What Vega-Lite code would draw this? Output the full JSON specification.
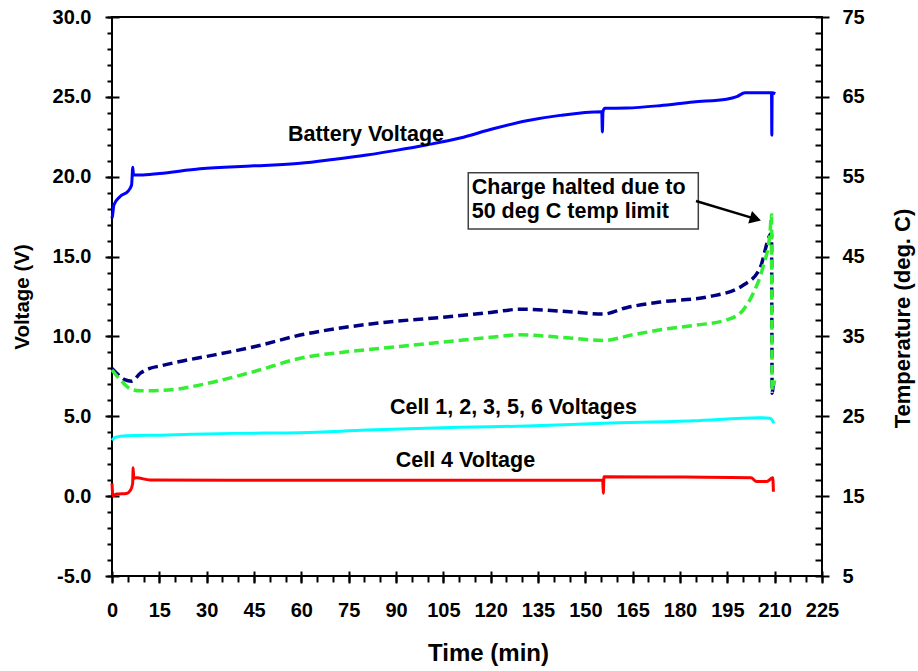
{
  "$schema": "https://vega.github.io/schema/vega-lite/v6.json",
  "width": 710,
  "height": 559,
  "autosize": {"type": "none"},
  "padding": {"left": 112, "top": 17, "right": 96, "bottom": 95},
  "background": "white",
  "config": {
    "view": {"stroke": "black", "strokeWidth": 2},
    "font": "Liberation Sans",
    "axis": {
      "domain": false,
      "grid": false,
      "tickColor": "black",
      "tickWidth": 2,
      "labelFont": "Liberation Sans",
      "labelFontWeight": "bold",
      "labelFontSize": 20,
      "labelColor": "black",
      "titleFont": "Liberation Sans",
      "titleFontWeight": "bold",
      "titleColor": "black",
      "labelOverlap": false,
      "labelFlush": false,
      "labelBound": false
    }
  },
  "datasets": {
    "volt": [
      {"s": "Battery", "t": 0, "v": 17.4},
      {"s": "Battery", "t": 0.2, "v": 17.6},
      {"s": "Battery", "t": 0.6, "v": 18.23},
      {"s": "Battery", "t": 2.5, "v": 18.75},
      {"s": "Battery", "t": 5.2, "v": 19.12},
      {"s": "Battery", "t": 6.2, "v": 19.48},
      {"s": "Battery", "t": 6.6, "v": 20.6},
      {"s": "Battery", "t": 6.8, "v": 20.1},
      {"s": "Battery", "t": 8.9, "v": 20.1},
      {"s": "Battery", "t": 15, "v": 20.2},
      {"s": "Battery", "t": 27.9, "v": 20.5},
      {"s": "Battery", "t": 45, "v": 20.68},
      {"s": "Battery", "t": 59.6, "v": 20.84},
      {"s": "Battery", "t": 70, "v": 21.08},
      {"s": "Battery", "t": 80.7, "v": 21.36},
      {"s": "Battery", "t": 90, "v": 21.65},
      {"s": "Battery", "t": 100, "v": 22.0},
      {"s": "Battery", "t": 110.3, "v": 22.42},
      {"s": "Battery", "t": 120.8, "v": 23.0},
      {"s": "Battery", "t": 131.4, "v": 23.5},
      {"s": "Battery", "t": 142, "v": 23.84},
      {"s": "Battery", "t": 155.2, "v": 24.07},
      {"s": "Battery", "t": 155.4, "v": 22.8},
      {"s": "Battery", "t": 155.6, "v": 24.1},
      {"s": "Battery", "t": 156.2, "v": 24.28},
      {"s": "Battery", "t": 163.1, "v": 24.3},
      {"s": "Battery", "t": 173.6, "v": 24.45},
      {"s": "Battery", "t": 184.2, "v": 24.68},
      {"s": "Battery", "t": 194.7, "v": 24.85},
      {"s": "Battery", "t": 198, "v": 25.01},
      {"s": "Battery", "t": 200.6, "v": 25.26},
      {"s": "Battery", "t": 209, "v": 25.26},
      {"s": "Battery", "t": 209.1, "v": 22.6},
      {"s": "Battery", "t": 209.2, "v": 25.26},
      {"s": "Battery", "t": 210.2, "v": 25.2},
      {"s": "Cells", "t": 0, "v": 3.5},
      {"s": "Cells", "t": 0.95, "v": 3.68},
      {"s": "Cells", "t": 4.6, "v": 3.78},
      {"s": "Cells", "t": 15.2, "v": 3.82},
      {"s": "Cells", "t": 38.4, "v": 3.93},
      {"s": "Cells", "t": 59.6, "v": 3.97},
      {"s": "Cells", "t": 80.7, "v": 4.14},
      {"s": "Cells", "t": 110, "v": 4.31},
      {"s": "Cells", "t": 131.4, "v": 4.39},
      {"s": "Cells", "t": 155.7, "v": 4.56},
      {"s": "Cells", "t": 184.2, "v": 4.72},
      {"s": "Cells", "t": 205.3, "v": 4.91},
      {"s": "Cells", "t": 208.5, "v": 4.87},
      {"s": "Cells", "t": 209.8, "v": 4.56},
      {"s": "Cell 4", "t": 0, "v": 0.8},
      {"s": "Cell 4", "t": 0.3, "v": 0.03},
      {"s": "Cell 4", "t": 1.5, "v": 0.13},
      {"s": "Cell 4", "t": 4.6, "v": 0.17},
      {"s": "Cell 4", "t": 5.9, "v": 0.38},
      {"s": "Cell 4", "t": 6.55, "v": 0.8},
      {"s": "Cell 4", "t": 6.7, "v": 1.78},
      {"s": "Cell 4", "t": 6.9, "v": 1.12},
      {"s": "Cell 4", "t": 7.8, "v": 1.15},
      {"s": "Cell 4", "t": 12, "v": 1.01},
      {"s": "Cell 4", "t": 60, "v": 1.0},
      {"s": "Cell 4", "t": 155.5, "v": 1.0},
      {"s": "Cell 4", "t": 155.7, "v": 0.18},
      {"s": "Cell 4", "t": 155.9, "v": 1.22},
      {"s": "Cell 4", "t": 175.8, "v": 1.2},
      {"s": "Cell 4", "t": 202.5, "v": 1.15},
      {"s": "Cell 4", "t": 204.3, "v": 0.91},
      {"s": "Cell 4", "t": 207.5, "v": 0.91},
      {"s": "Cell 4", "t": 209.4, "v": 1.15},
      {"s": "Cell 4", "t": 209.6, "v": 0.28}
    ],
    "temp": [
      {"s": "Temp A", "t": 0, "c": 31.0},
      {"s": "Temp A", "t": 2, "c": 30.2},
      {"s": "Temp A", "t": 4, "c": 29.6},
      {"s": "Temp A", "t": 6.2, "c": 29.4},
      {"s": "Temp A", "t": 9, "c": 30.4},
      {"s": "Temp A", "t": 12, "c": 31.0},
      {"s": "Temp A", "t": 15.2, "c": 31.3},
      {"s": "Temp A", "t": 22, "c": 31.9},
      {"s": "Temp A", "t": 30, "c": 32.5},
      {"s": "Temp A", "t": 45, "c": 33.7},
      {"s": "Temp A", "t": 60, "c": 35.2},
      {"s": "Temp A", "t": 75, "c": 36.2},
      {"s": "Temp A", "t": 90, "c": 36.9},
      {"s": "Temp A", "t": 105, "c": 37.4},
      {"s": "Temp A", "t": 120, "c": 38.0},
      {"s": "Temp A", "t": 129.3, "c": 38.4},
      {"s": "Temp A", "t": 145, "c": 38.1},
      {"s": "Temp A", "t": 155.6, "c": 37.8},
      {"s": "Temp A", "t": 163, "c": 38.6},
      {"s": "Temp A", "t": 173.6, "c": 39.3},
      {"s": "Temp A", "t": 189.5, "c": 40.0},
      {"s": "Temp A", "t": 200, "c": 41.4},
      {"s": "Temp A", "t": 205.3, "c": 43.5},
      {"s": "Temp A", "t": 209, "c": 47.9},
      {"s": "Temp A", "t": 209.2, "c": 27.9},
      {"s": "Temp A", "t": 209.5, "c": 28.9},
      {"s": "Temp B", "t": 0, "c": 30.8},
      {"s": "Temp B", "t": 3, "c": 29.4},
      {"s": "Temp B", "t": 6, "c": 28.4},
      {"s": "Temp B", "t": 9, "c": 28.2},
      {"s": "Temp B", "t": 12, "c": 28.2},
      {"s": "Temp B", "t": 20.5, "c": 28.4},
      {"s": "Temp B", "t": 30, "c": 29.1},
      {"s": "Temp B", "t": 45, "c": 30.6},
      {"s": "Temp B", "t": 60, "c": 32.3},
      {"s": "Temp B", "t": 75, "c": 33.1},
      {"s": "Temp B", "t": 90, "c": 33.7},
      {"s": "Temp B", "t": 105, "c": 34.3},
      {"s": "Temp B", "t": 120, "c": 34.9},
      {"s": "Temp B", "t": 129.3, "c": 35.2},
      {"s": "Temp B", "t": 145, "c": 34.8},
      {"s": "Temp B", "t": 155.7, "c": 34.5},
      {"s": "Temp B", "t": 165, "c": 35.2},
      {"s": "Temp B", "t": 175, "c": 35.9},
      {"s": "Temp B", "t": 185, "c": 36.4},
      {"s": "Temp B", "t": 195, "c": 37.1},
      {"s": "Temp B", "t": 200, "c": 38.3},
      {"s": "Temp B", "t": 203.2, "c": 40.4},
      {"s": "Temp B", "t": 206.3, "c": 43.7},
      {"s": "Temp B", "t": 208.5, "c": 47.9},
      {"s": "Temp B", "t": 209, "c": 50.2},
      {"s": "Temp B", "t": 209.2, "c": 28.3},
      {"s": "Temp B", "t": 210, "c": 29.5}
    ],
    "labels": [
      {"t": 80.49, "v": 22.61, "text": "Battery Voltage"},
      {"t": 127.2, "v": 5.55, "text": "Cell 1, 2, 3, 5, 6 Voltages"},
      {"t": 112.0, "v": 2.17, "text": "Cell 4 Voltage"}
    ],
    "box": [
      {"t1": 112.9, "t2": 185.8, "v1": 20.25, "v2": 16.73}
    ],
    "boxtext": [
      {"t": 114.0, "v": 19.32, "text": "Charge halted due to"},
      {"t": 114.0, "v": 17.76, "text": "50 deg C temp limit"}
    ],
    "arrow": [
      {"t1": 185.07, "v1": 18.48, "t2": 203.93, "v2": 17.36}
    ]
  },
  "layer": [
    {
      "data": {"name": "volt"},
      "mark": {"type": "line", "strokeWidth": 3, "interpolate": "monotone"},
      "encoding": {
        "x": {
          "field": "t", "type": "quantitative",
          "scale": {"domain": [0, 225], "nice": false, "zero": false},
          "axis": {
            "orient": "bottom",
            "values": [0, 15, 30, 45, 60, 75, 90, 105, 120, 135, 150, 165, 180, 195, 210, 225],
            "tickSize": 7, "labelPadding": 17,
            "title": "Time (min)", "titleFontSize": 24,
            "titleX": 376, "titleY": 84, "titleBaseline": "alphabetic", "titleAlign": "center", "titleAngle": 0
          }
        },
        "y": {
          "field": "v", "type": "quantitative",
          "scale": {"domain": [-5, 30], "nice": false, "zero": false},
          "axis": {
            "orient": "left",
            "values": [-5, 0, 5, 10, 15, 20, 25, 30],
            "tickSize": 7, "labelPadding": 14,
            "labelExpr": "(datum.value < 0 ? '-' : '') + format(abs(datum.value), '.1f')",
            "title": "Voltage (V)", "titleFontSize": 20.5, "titleAngle": -90,
            "titleX": -84, "titleY": 279.5, "titleBaseline": "alphabetic", "titleAlign": "center"
          }
        },
        "color": {
          "field": "s", "type": "nominal", "legend": null,
          "scale": {"domain": ["Battery", "Cells", "Cell 4", "Temp A", "Temp B"], "range": ["#0000ff", "#00ffff", "#ff0000", "#000080", "#33ee33"]}
        }
      }
    },
    {
      "data": {"name": "temp"},
      "mark": {"type": "line", "strokeWidth": 3.5, "strokeDash": [10, 5], "interpolate": "monotone"},
      "encoding": {
        "x": {"field": "t", "type": "quantitative", "scale": {"domain": [0, 225], "nice": false, "zero": false}, "axis": null},
        "y": {
          "field": "c", "type": "quantitative",
          "scale": {"domain": [5, 75], "nice": false, "zero": false},
          "axis": {
            "orient": "right",
            "values": [5, 15, 25, 35, 45, 55, 65, 75],
            "tickSize": 7, "labelPadding": 13,
            "title": "Temperature (deg. C)", "titleFontSize": 22, "titleAngle": -90,
            "titleX": 87, "titleY": 301, "titleBaseline": "alphabetic", "titleAlign": "center"
          }
        },
        "color": {
          "field": "s", "type": "nominal", "legend": null,
          "scale": {"domain": ["Battery", "Cells", "Cell 4", "Temp A", "Temp B"], "range": ["#0000ff", "#00ffff", "#ff0000", "#000080", "#33ee33"]}
        }
      }
    },
    {
      "data": {"name": "labels"},
      "mark": {"type": "text", "font": "Liberation Sans", "fontWeight": "bold", "fontSize": 21.5, "color": "black", "align": "center", "baseline": "middle"},
      "encoding": {
        "x": {
          "field": "t", "type": "quantitative",
          "scale": {"domain": [0, 225], "nice": false, "zero": false},
          "axis": {"orient": "bottom", "values": [0, 15, 30, 45, 60, 75, 90, 105, 120, 135, 150, 165, 180, 195, 210, 225], "tickSize": -5, "labels": false, "title": null}
        },
        "y": {
          "field": "v", "type": "quantitative",
          "scale": {"domain": [-5, 30], "nice": false, "zero": false},
          "axis": {"orient": "left", "values": [-5, 0, 5, 10, 15, 20, 25, 30], "tickSize": -7, "labels": false, "title": null}
        },
        "text": {"field": "text"}
      }
    },
    {
      "data": {"name": "box"},
      "mark": {"type": "rect", "fill": "white", "stroke": "#404040", "strokeWidth": 1.5},
      "encoding": {
        "x": {
          "field": "t1", "type": "quantitative",
          "scale": {"domain": [0, 225], "nice": false, "zero": false},
          "axis": {"orient": "bottom", "values": [0, 5, 10, 15, 20, 25, 30, 35, 40, 45, 50, 55, 60, 65, 70, 75, 80, 85, 90, 95, 100, 105, 110, 115, 120, 125, 130, 135, 140, 145, 150, 155, 160, 165, 170, 175, 180, 185, 190, 195, 200, 205, 210, 215, 220, 225], "tickSize": 6, "labels": false, "title": null}
        },
        "x2": {"field": "t2"},
        "y": {
          "field": "v1", "type": "quantitative",
          "scale": {"domain": [-5, 30], "nice": false, "zero": false},
          "axis": {"orient": "left", "values": [-5, -4, -3, -2, -1, 0, 1, 2, 3, 4, 5, 6, 7, 8, 9, 10, 11, 12, 13, 14, 15, 16, 17, 18, 19, 20, 21, 22, 23, 24, 25, 26, 27, 28, 29, 30], "tickSize": 5, "labels": false, "title": null}
        },
        "y2": {"field": "v2"}
      }
    },
    {
      "data": {"name": "boxtext"},
      "mark": {"type": "text", "font": "Liberation Sans", "fontWeight": "bold", "fontSize": 21.5, "color": "black", "align": "left", "baseline": "middle"},
      "encoding": {
        "x": {"field": "t", "type": "quantitative", "scale": {"domain": [0, 225], "nice": false, "zero": false}, "axis": null},
        "y": {"field": "v", "type": "quantitative", "scale": {"domain": [-5, 30], "nice": false, "zero": false}, "axis": null},
        "text": {"field": "text"}
      }
    },
    {
      "data": {"name": "arrow"},
      "mark": {"type": "rule", "color": "black", "strokeWidth": 2.5},
      "encoding": {
        "x": {"field": "t1", "type": "quantitative", "scale": {"domain": [0, 225], "nice": false, "zero": false}, "axis": null},
        "x2": {"field": "t2"},
        "y": {"field": "v1", "type": "quantitative", "scale": {"domain": [-5, 30], "nice": false, "zero": false}, "axis": null},
        "y2": {"field": "v2"}
      }
    },
    {
      "data": {"name": "arrow"},
      "mark": {"type": "point", "shape": "triangle-right", "filled": true, "color": "black", "opacity": 1, "size": 169, "angle": 16.7},
      "encoding": {
        "x": {"field": "t2", "type": "quantitative", "scale": {"domain": [0, 225], "nice": false, "zero": false}, "axis": null},
        "y": {"field": "v2", "type": "quantitative", "scale": {"domain": [-5, 30], "nice": false, "zero": false}, "axis": null}
      }
    },
    {
      "data": {"name": "temp"},
      "mark": {"type": "point", "opacity": 0},
      "encoding": {
        "x": {"field": "t", "type": "quantitative", "scale": {"domain": [0, 225], "nice": false, "zero": false}, "axis": null},
        "y": {
          "field": "c", "type": "quantitative",
          "scale": {"domain": [5, 75], "nice": false, "zero": false},
          "axis": {"orient": "right", "values": [5, 7, 9, 11, 13, 15, 17, 19, 21, 23, 25, 27, 29, 31, 33, 35, 37, 39, 41, 43, 45, 47, 49, 51, 53, 55, 57, 59, 61, 63, 65, 67, 69, 71, 73, 75], "tickSize": -7, "labels": false, "title": null}
        }
      }
    }
  ],
  "resolve": {"scale": {"y": "independent"}, "axis": {"x": "independent", "y": "independent"}}
}
